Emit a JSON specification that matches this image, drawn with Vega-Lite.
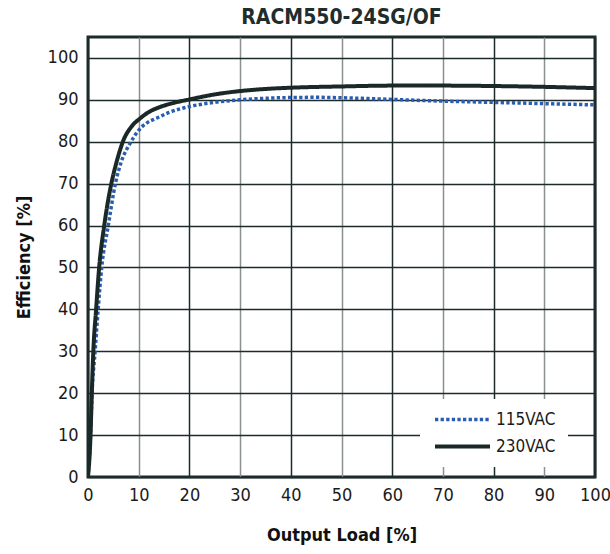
{
  "$schema": "https://vega.github.io/schema/vega-lite/v6.json",
  "autosize": "none",
  "width": 507,
  "height": 440,
  "padding": {"left": 88, "top": 37, "right": 15, "bottom": 77},
  "background": "white",
  "config": {
    "font": "DejaVu Sans Condensed, sans-serif",
    "view": {"stroke": "#1d2b2b", "strokeWidth": 3},
    "axis": {
      "domain": false,
      "ticks": false,
      "labelFontSize": 18,
      "labelColor": "#1a1a1a",
      "titleFontSize": 18,
      "titleFontWeight": "bold",
      "titleColor": "#111",
      "gridWidth": 1.5,
      "gridOpacity": 1
    }
  },
  "title": {
    "text": "RACM550-24SG/OF",
    "fontSize": 21,
    "fontWeight": "bold",
    "color": "#1f2d2d",
    "anchor": "middle",
    "offset": 9
  },
  "data": {
    "values": [
      {"load": 0, "eff": 0, "series": "115VAC"},
      {"load": 0.5, "eff": 10, "series": "115VAC"},
      {"load": 0.8, "eff": 20, "series": "115VAC"},
      {"load": 1.4, "eff": 30, "series": "115VAC"},
      {"load": 2.0, "eff": 40, "series": "115VAC"},
      {"load": 2.7, "eff": 50, "series": "115VAC"},
      {"load": 4.0, "eff": 60, "series": "115VAC"},
      {"load": 5.4, "eff": 70, "series": "115VAC"},
      {"load": 6.5, "eff": 75, "series": "115VAC"},
      {"load": 8.3, "eff": 79.6, "series": "115VAC"},
      {"load": 9.9, "eff": 82.6, "series": "115VAC"},
      {"load": 11.5, "eff": 84.4, "series": "115VAC"},
      {"load": 13.5, "eff": 85.6, "series": "115VAC"},
      {"load": 16, "eff": 87, "series": "115VAC"},
      {"load": 20, "eff": 88.4, "series": "115VAC"},
      {"load": 25, "eff": 89.4, "series": "115VAC"},
      {"load": 30, "eff": 90.0, "series": "115VAC"},
      {"load": 38, "eff": 90.5, "series": "115VAC"},
      {"load": 45, "eff": 90.6, "series": "115VAC"},
      {"load": 50, "eff": 90.5, "series": "115VAC"},
      {"load": 60, "eff": 90.1, "series": "115VAC"},
      {"load": 70, "eff": 89.7, "series": "115VAC"},
      {"load": 80, "eff": 89.4, "series": "115VAC"},
      {"load": 90, "eff": 89.1, "series": "115VAC"},
      {"load": 100, "eff": 88.8, "series": "115VAC"},
      {"load": 0, "eff": 0, "series": "230VAC"},
      {"load": 0.5, "eff": 10, "series": "230VAC"},
      {"load": 0.75, "eff": 20, "series": "230VAC"},
      {"load": 1.05, "eff": 30, "series": "230VAC"},
      {"load": 1.6, "eff": 40, "series": "230VAC"},
      {"load": 2.2, "eff": 50, "series": "230VAC"},
      {"load": 3.2, "eff": 60, "series": "230VAC"},
      {"load": 4.6, "eff": 70, "series": "230VAC"},
      {"load": 5.6, "eff": 75, "series": "230VAC"},
      {"load": 7.0, "eff": 80.4, "series": "230VAC"},
      {"load": 8.5, "eff": 83.5, "series": "230VAC"},
      {"load": 10.3, "eff": 85.6, "series": "230VAC"},
      {"load": 12, "eff": 87.1, "series": "230VAC"},
      {"load": 14, "eff": 88.2, "series": "230VAC"},
      {"load": 17, "eff": 89.3, "series": "230VAC"},
      {"load": 20, "eff": 90.1, "series": "230VAC"},
      {"load": 25, "eff": 91.3, "series": "230VAC"},
      {"load": 30, "eff": 92.1, "series": "230VAC"},
      {"load": 35, "eff": 92.6, "series": "230VAC"},
      {"load": 40, "eff": 92.9, "series": "230VAC"},
      {"load": 50, "eff": 93.2, "series": "230VAC"},
      {"load": 60, "eff": 93.4, "series": "230VAC"},
      {"load": 70, "eff": 93.4, "series": "230VAC"},
      {"load": 80, "eff": 93.3, "series": "230VAC"},
      {"load": 90, "eff": 93.1, "series": "230VAC"},
      {"load": 100, "eff": 92.8, "series": "230VAC"}
    ]
  },
  "mark": {"type": "line", "interpolate": "monotone", "clip": true},
  "encoding": {
    "x": {
      "field": "load",
      "type": "quantitative",
      "scale": {"domain": [0, 100], "nice": false},
      "axis": {
        "title": "Output Load [%]",
        "values": [0, 10, 20, 30, 40, 50, 60, 70, 80, 90, 100],
        "labelPadding": 9,
        "titlePadding": 22,
        "gridColor": {"condition": {"test": "datum.value % 20 === 10", "value": "#8a8f8f"}, "value": "#1d2b2b"},
        "labelFlush": false
      }
    },
    "y": {
      "field": "eff",
      "type": "quantitative",
      "scale": {"domain": [0, 105], "nice": false},
      "axis": {
        "title": "Efficiency [%]",
        "values": [0, 10, 20, 30, 40, 50, 60, 70, 80, 90, 100],
        "labelPadding": 10,
        "titlePadding": 14,
        "gridColor": "#1d2b2b"
      }
    },
    "color": {
      "field": "series",
      "type": "nominal",
      "scale": {"domain": ["115VAC", "230VAC"], "range": ["#2a5db0", "#1a2828"]},
      "legend": {
        "title": null,
        "orient": "none",
        "legendX": 332,
        "legendY": 362,
        "fillColor": "white",
        "padding": 12,
        "symbolType": "M-5.5,0H5.5",
        "symbolSize": 100,
        "symbolStrokeWidth": 4,
        "symbolOffset": 22,
        "labelOffset": 25,
        "labelFontSize": 17,
        "labelColor": "#1a1a1a",
        "rowPadding": 9
      }
    },
    "strokeDash": {
      "field": "series",
      "type": "nominal",
      "scale": {"domain": ["115VAC", "230VAC"], "range": [[3.3, 2.3], [1, 0]]},
      "legend": null
    },
    "strokeWidth": {
      "field": "series",
      "type": "nominal",
      "scale": {"domain": ["115VAC", "230VAC"], "range": [3.5, 4]},
      "legend": null
    }
  }
}
